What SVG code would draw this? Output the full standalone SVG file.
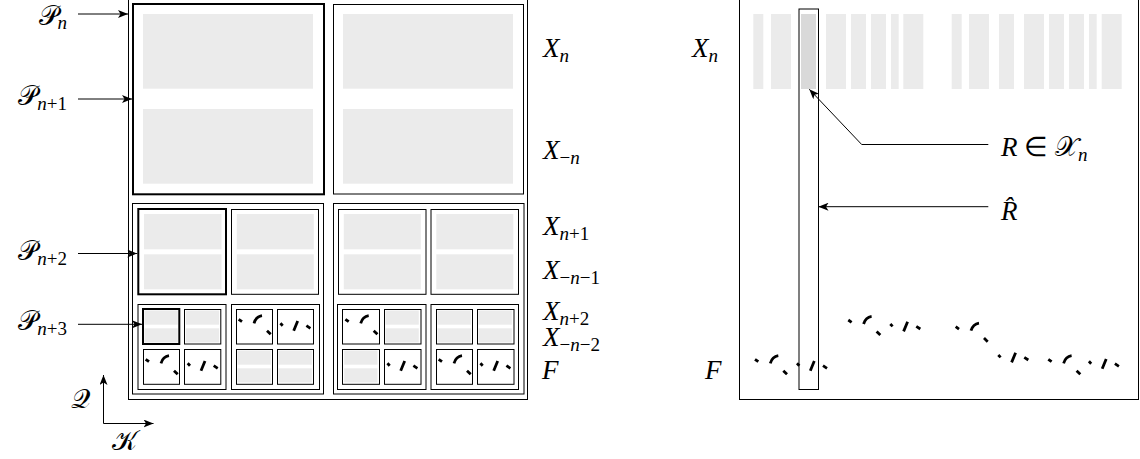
<svg xmlns="http://www.w3.org/2000/svg" width="1140" height="459" viewBox="0 0 1140 459">
<style>
.fr{fill:none;stroke:#000;stroke-width:1}
.tk{fill:none;stroke:#000;stroke-width:2}
.g{fill:#ebebeb}
.g2{fill:#d9d9d9}
.d{fill:none;stroke:#000;stroke-width:2.8}
.ar{fill:none;stroke:#000;stroke-width:1}
.t{font-family:"Liberation Serif",serif;font-style:italic;font-size:27px;fill:#000}
.c{font-family:"DejaVu Serif","DejaVu Sans",serif;font-style:normal;font-weight:normal}
.s{font-size:19px}
.u{font-style:normal}
</style>
<defs>
<marker id="ah" viewBox="0 0 10 8" refX="10" refY="4" markerWidth="10" markerHeight="8" markerUnits="userSpaceOnUse" orient="auto"><path d="M0,0 L10,4 L0,8 L2.5,4 Z" fill="#000"/></marker>
<g id="sqA" class="d"><path d="M2.7,10.3 L6,12.7 M18,14.3 Q20,7.6 26,6.7 M31,21.7 L34.7,25.3"/></g>
<g id="sqB" class="d"><path d="M3.4,14.3 L5.7,16.7 M16.7,21.7 L20.7,12 M29.4,16.7 L33.4,19.3"/></g>
<g id="tg"><rect class="g" x="1.5" y="1.5" width="33.3" height="14.2"/><rect class="g" x="1.5" y="19.3" width="33.3" height="14.2"/></g>
</defs>

<g id="left-frame">
<rect class="fr" x="128.5" y="-0.5" width="399" height="400"/>
</g>

<g id="P_n-box">
<rect class="tk" x="133" y="4" width="191" height="190.3"/>
<rect class="g" x="143" y="14" width="170" height="74.7"/>
<rect class="g" x="143" y="109" width="170" height="74.7"/>
</g>
<g id="top-right-box">
<rect class="fr" x="333.5" y="4.5" width="190" height="189.5"/>
<rect class="g" x="343" y="14" width="170" height="74.7"/>
<rect class="g" x="343" y="109" width="170" height="74.7"/>
</g>

<g id="lower-left-frame"><rect class="fr" x="132.5" y="203.5" width="191" height="190.5"/></g>
<g id="lower-right-frame"><rect class="fr" x="333.5" y="203.5" width="190.5" height="190.5"/></g>

<g id="P_n2-box">
<rect class="tk" x="138.3" y="209" width="87.7" height="85.3"/>
<rect class="g" x="144" y="214" width="77.5" height="35.3"/>
<rect class="g" x="144" y="254.3" width="77.5" height="35"/>
</g>
<g id="mid-box-2">
<rect class="fr" x="231.5" y="209.5" width="87" height="84.8"/>
<rect class="g" x="236.8" y="214" width="77" height="35.3"/>
<rect class="g" x="236.8" y="254.3" width="77" height="35"/>
</g>
<g id="mid-box-3">
<rect class="fr" x="338.5" y="209.5" width="87.5" height="84.8"/>
<rect class="g" x="343.8" y="214" width="77" height="35.3"/>
<rect class="g" x="343.8" y="254.3" width="77" height="35"/>
</g>
<g id="mid-box-4">
<rect class="fr" x="431" y="209.5" width="87.5" height="84.8"/>
<rect class="g" x="436.3" y="214" width="77" height="35.3"/>
<rect class="g" x="436.3" y="254.3" width="77" height="35"/>
</g>

<g id="sub-frame-1">
<rect class="fr" x="138" y="304.5" width="88" height="85"/>
<rect class="tk" x="143" y="309" width="36.3" height="35"/>
<use href="#tg" x="143" y="309"/>
<rect class="fr" x="184.5" y="309.5" width="36.3" height="34.5"/>
<use href="#tg" x="184.3" y="309"/>
<rect class="fr" x="143.5" y="349.5" width="36" height="34.8"/>
<use href="#sqA" x="143" y="349"/>
<rect class="fr" x="184.5" y="349.5" width="36.3" height="34.8"/>
<use href="#sqB" x="184.3" y="349"/>
</g>
<g id="sub-frame-2">
<rect class="fr" x="231.5" y="304.5" width="88" height="85"/>
<rect class="fr" x="236.5" y="309.5" width="36" height="34.5"/>
<use href="#sqA" x="236" y="309"/>
<rect class="fr" x="277.5" y="309.5" width="36" height="34.5"/>
<use href="#sqB" x="277" y="309"/>
<rect class="fr" x="236.5" y="349.5" width="36" height="34.8"/>
<use href="#tg" x="236" y="349"/>
<rect class="fr" x="277.5" y="349.5" width="36" height="34.8"/>
<use href="#tg" x="277" y="349"/>
</g>
<g id="sub-frame-3">
<rect class="fr" x="337.5" y="304.5" width="88.5" height="85"/>
<rect class="fr" x="342.5" y="309.5" width="37" height="34.5"/>
<use href="#sqA" x="342.7" y="309"/>
<rect class="fr" x="384.5" y="309.5" width="36.5" height="34.5"/>
<use href="#tg" x="384" y="309"/>
<rect class="fr" x="342.5" y="349.5" width="37" height="34.8"/>
<use href="#tg" x="342.7" y="349"/>
<rect class="fr" x="384.5" y="349.5" width="36.5" height="34.8"/>
<use href="#sqB" x="384" y="349"/>
</g>
<g id="sub-frame-4">
<rect class="fr" x="431" y="304.5" width="87.5" height="85"/>
<rect class="fr" x="436.5" y="309.5" width="36" height="34.5"/>
<use href="#tg" x="436" y="309"/>
<rect class="fr" x="477.5" y="309.5" width="36.5" height="34.5"/>
<use href="#tg" x="477" y="309"/>
<rect class="fr" x="436.5" y="349.5" width="36" height="34.8"/>
<use href="#sqA" x="436" y="349"/>
<rect class="fr" x="477.5" y="349.5" width="36.5" height="34.8"/>
<use href="#sqB" x="477" y="349"/>
</g>

<g id="right-frame">
<rect class="fr" x="739.5" y="-0.5" width="399" height="400"/>
<g id="bars">
<rect class="g" x="753.3" y="14" width="10" height="75"/>
<rect class="g" x="771" y="14" width="20" height="75"/>
<rect class="g2" x="801" y="14" width="15" height="75"/>
<rect class="g" x="826" y="14" width="20" height="75"/>
<rect class="g" x="851" y="14" width="15" height="75"/>
<rect class="g" x="871" y="14" width="15" height="75"/>
<rect class="g" x="891" y="14" width="7.7" height="75"/>
<rect class="g" x="903.3" y="14" width="20" height="75"/>
<rect class="g" x="951.7" y="14" width="10" height="75"/>
<rect class="g" x="969" y="14" width="20" height="75"/>
<rect class="g" x="999" y="14" width="15" height="75"/>
<rect class="g" x="1024" y="14" width="20" height="75"/>
<rect class="g" x="1049" y="14" width="15" height="75"/>
<rect class="g" x="1069" y="14" width="15" height="75"/>
<rect class="g" x="1089" y="14" width="7.7" height="75"/>
<rect class="g" x="1101.7" y="14" width="20" height="75"/>
</g>
<g id="F-curve">
<use href="#sqA" x="752.3" y="349"/>
<use href="#sqB" x="793.6" y="349"/>
<use href="#sqA" x="845.6" y="309.7"/>
<use href="#sqB" x="886.9" y="309.7"/>
<use href="#sqA" x="953" y="316.4"/>
<use href="#sqB" x="994.9" y="340.7"/>
<use href="#sqA" x="1045.6" y="349"/>
<use href="#sqB" x="1085.5" y="347"/>
</g>
</g>
<g id="R-hat"><rect class="fr" x="799" y="9" width="19.5" height="380.5"/></g>

<g id="connectors">
<line class="ar" x1="78" y1="14" x2="128" y2="14" marker-end="url(#ah)"/>
<line class="ar" x1="78" y1="99" x2="132" y2="99" marker-end="url(#ah)"/>
<line class="ar" x1="78" y1="253.5" x2="137.3" y2="253.5" marker-end="url(#ah)"/>
<line class="ar" x1="78" y1="324.3" x2="142" y2="324.3" marker-end="url(#ah)"/>
<line class="ar" x1="103.5" y1="423.5" x2="103.5" y2="375" marker-end="url(#ah)"/>
<line class="ar" x1="103.5" y1="423.5" x2="153.5" y2="423.5" marker-end="url(#ah)"/>
<polyline class="ar" points="988.3,144.5 861.7,144.5 809.3,89.3" marker-end="url(#ah)"/>
<line class="ar" x1="988.3" y1="206.7" x2="818.5" y2="206.7" marker-end="url(#ah)"/>
</g>

<g id="labels">
<text class="t" x="67" y="25" text-anchor="end"><tspan class="c">𝒫</tspan><tspan class="s" dy="4">n</tspan></text>
<text class="t" x="67" y="105" text-anchor="end"><tspan class="c">𝒫</tspan><tspan class="s" dy="5">n</tspan><tspan class="s u">+1</tspan></text>
<text class="t" x="67" y="260" text-anchor="end"><tspan class="c">𝒫</tspan><tspan class="s" dy="5">n</tspan><tspan class="s u">+2</tspan></text>
<text class="t" x="67" y="330" text-anchor="end"><tspan class="c">𝒫</tspan><tspan class="s" dy="5">n</tspan><tspan class="s u">+3</tspan></text>
<text class="t" x="71" y="408"><tspan class="c">𝒬</tspan></text>
<text class="t" x="112" y="450"><tspan class="c">𝒦</tspan></text>
<text class="t" x="543" y="57">X<tspan class="s" dy="5">n</tspan></text>
<text class="t" x="543" y="159">X<tspan class="s u" dy="5">−</tspan><tspan class="s">n</tspan></text>
<text class="t" x="543" y="235">X<tspan class="s" dy="5">n</tspan><tspan class="s u">+1</tspan></text>
<text class="t" x="543" y="279">X<tspan class="s u" dy="5">−</tspan><tspan class="s">n</tspan><tspan class="s u">−1</tspan></text>
<text class="t" x="543" y="320">X<tspan class="s" dy="5">n</tspan><tspan class="s u">+2</tspan></text>
<text class="t" x="543" y="346">X<tspan class="s u" dy="5">−</tspan><tspan class="s">n</tspan><tspan class="s u">−2</tspan></text>
<text class="t" x="542" y="379">F</text>
<text class="t" x="692" y="57">X<tspan class="s" dy="5">n</tspan></text>
<text class="t" x="705" y="379">F</text>
<text class="t" x="1001" y="156">R <tspan class="u">∈</tspan> <tspan class="c">𝒳</tspan><tspan class="s" dy="5">n</tspan></text>
<text class="t" x="1001" y="220">R̂</text>
</g>
</svg>
